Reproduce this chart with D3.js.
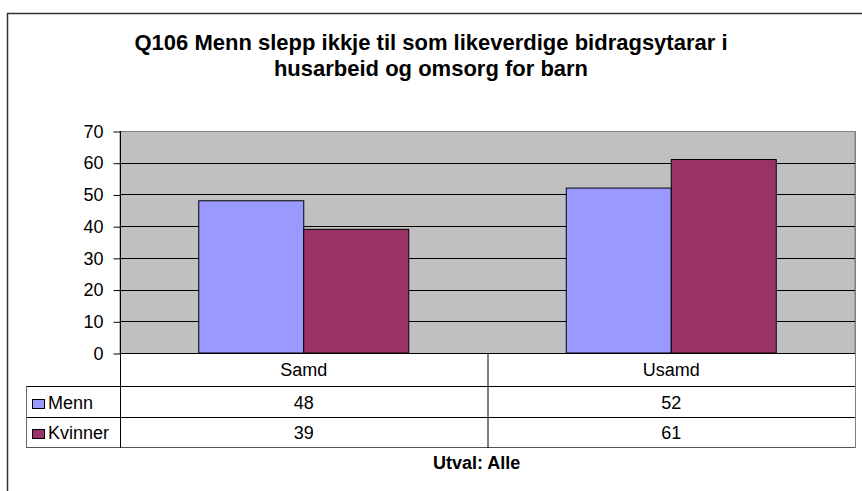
<!DOCTYPE html>
<html><head><meta charset="utf-8">
<script src="https://cdn.jsdelivr.net/npm/d3@7"></script>
<style>
html,body{margin:0;padding:0;background:#fff;}
svg{display:block;font-family:"Liberation Sans",Arial,sans-serif;}
</style></head>
<body>
<svg id="chart" width="862" height="491"></svg>
<script>
const titleLines = ["Q106 Menn slepp ikkje til som likeverdige bidragsytarar i", "husarbeid og omsorg for barn"];
const categories = ["Samd", "Usamd"];
const seriesNames = ["Menn", "Kvinner"];
const menn = [48, 52];
const kvinner = [39, 61];
const yTicks = [0, 10, 20, 30, 40, 50, 60, 70];
const footnote = "Utval: Alle";
const colors = ["#9999FF", "#993366"];

(function () {
const seriesValues = [menn, kvinner];
const svg = d3.select("#chart");
const FS = 18;

// outer frame
svg.append("path").attr("d", "M7.5,491 V13.5 H862").attr("fill", "none").attr("stroke", "#333").attr("stroke-width", 1.5);

// title
svg.append("text").attr("x", 431).attr("y", 50).attr("text-anchor", "middle")
  .attr("font-size", 22).attr("font-weight", "bold").text(titleLines[0]);
svg.append("text").attr("x", 431).attr("y", 76).attr("text-anchor", "middle")
  .attr("font-size", 22).attr("font-weight", "bold").text(titleLines[1]);

const pLeft = 120, pRight = 855, pTop = 131, pBottom = 353;
const x = d3.scaleBand().domain(categories).range([pLeft, pRight]).paddingInner(0).paddingOuter(0);
const xs = d3.scaleBand().domain(seriesNames).range([0, x.bandwidth()]).paddingInner(0).paddingOuter(0.75);
const y = d3.scaleLinear().domain([0, 70]).range([pBottom, pTop]);

// plot background
svg.append("rect").attr("x", pLeft).attr("y", pTop + 0.5).attr("width", pRight - pLeft).attr("height", pBottom - pTop)
  .attr("fill", "#C0C0C0").attr("stroke", "#808080").attr("stroke-width", 1);

// gridlines
svg.append("g").selectAll("line").data(yTicks.filter(d => d > 0 && d < 70)).join("line")
  .attr("x1", pLeft).attr("x2", pRight).attr("y1", d => Math.round(y(d)) + 0.5).attr("y2", d => Math.round(y(d)) + 0.5)
  .attr("stroke", "#000").attr("stroke-width", 1);

// bars
categories.forEach((c, ci) => {
  seriesNames.forEach((s, si) => {
    const v = seriesValues[si][ci];
    svg.append("rect")
      .attr("x", x(c) + xs(s)).attr("width", xs.bandwidth())
      .attr("y", y(v)).attr("height", y(0) - y(v))
      .attr("fill", colors[si]).attr("stroke", "#000").attr("stroke-width", 1);
  });
});

// y axis
const yAxis = d3.axisLeft(y).tickValues(yTicks).tickSize(7).tickPadding(10);
const gy = svg.append("g").attr("transform", `translate(${pLeft + 0.5},0.5)`).call(yAxis);
gy.select(".domain").remove();
gy.selectAll(".tick line").attr("stroke", "#000");
gy.selectAll(".tick text").attr("font-size", FS).attr("fill", "#000")
  .attr("font-family", "'Liberation Sans',Arial,sans-serif");

// table
const rowCat = [353, 386], rowM = [386, 417], rowK = [417, 447];
const tLeft = 26;
svg.append("rect").attr("x", pLeft).attr("y", rowCat[0]).attr("width", pRight - pLeft).attr("height", rowCat[1] - rowCat[0]).attr("fill", "#fff");
[rowM[0], rowK[0]].forEach(yy => {
  svg.append("line").attr("x1", tLeft).attr("x2", pRight).attr("y1", yy + 0.5).attr("y2", yy + 0.5).attr("stroke", "#000");
});
svg.append("line").attr("x1", pLeft).attr("x2", pRight).attr("y1", pBottom + 0.5).attr("y2", pBottom + 0.5).attr("stroke", "#000");
svg.append("line").attr("x1", tLeft).attr("x2", pRight).attr("y1", rowK[1] + 0.5).attr("y2", rowK[1] + 0.5).attr("stroke", "#555");
svg.append("line").attr("x1", tLeft + 0.5).attr("x2", tLeft + 0.5).attr("y1", rowM[0]).attr("y2", rowK[1] + 1).attr("stroke", "#666");
svg.append("line").attr("x1", pRight + 0.5).attr("x2", pRight + 0.5).attr("y1", pTop).attr("y2", rowK[1] + 1).attr("stroke", "#808080");
svg.append("line").attr("x1", pLeft + 0.5).attr("x2", pLeft + 0.5).attr("y1", pTop).attr("y2", rowK[1] + 1).attr("stroke", "#000");
categories.slice(1).forEach(c => {
  svg.append("line").attr("x1", x(c) + 0.5).attr("x2", x(c) + 0.5).attr("y1", pBottom).attr("y2", rowK[1] + 1).attr("stroke", "#000");
});

// category labels
svg.append("g").selectAll("text").data(categories).join("text")
  .attr("x", d => x(d) + x.bandwidth() / 2).attr("y", 376).attr("text-anchor", "middle")
  .attr("font-size", FS).text(d => d);

// series rows
const rows = [rowM, rowK];
seriesNames.forEach((s, si) => {
  const r = rows[si];
  const base = r[1] - 8;
  svg.append("rect").attr("x", 32.5).attr("y", base - 9.5).attr("width", 12).attr("height", 9)
    .attr("fill", colors[si]).attr("stroke", "#000").attr("stroke-width", 1);
  svg.append("text").attr("x", 48).attr("y", base).attr("font-size", FS).text(s);
  categories.forEach((c, ci) => {
    svg.append("text").attr("x", x(c) + x.bandwidth() / 2).attr("y", base).attr("text-anchor", "middle")
      .attr("font-size", FS).text(seriesValues[si][ci]);
  });
});

// footnote
svg.append("text").attr("x", 433).attr("y", 469)
  .attr("font-size", FS).attr("font-weight", "bold").text(footnote);
})();
</script>
</body></html>
